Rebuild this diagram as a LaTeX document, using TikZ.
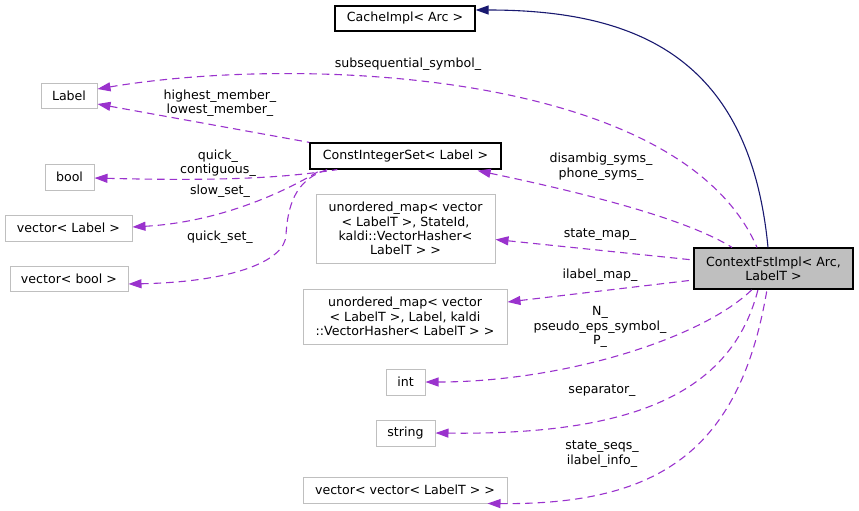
\documentclass[tikz,border=0pt]{standalone}
\usepackage{fontspec}
\setmainfont{DejaVu Sans}
\usetikzlibrary{arrows.meta, calc}
\definecolor{EdgePurple}{rgb}{0.604, 0.196, 0.804}
\definecolor{EdgeNavy}{rgb}{0.098, 0.098, 0.439}
\definecolor{BoxGray}{rgb}{0.75, 0.75, 0.75}
\newcommand{\typebox}[6][plainbox]{% estilo, nombre, x/y, ancho, alto, texto
    \node[#1, minimum width=#4, minimum height=#5] (#2) at (#3) {#6};
}

\begin{document}
\begin{tikzpicture}[x=1pt, y=-1pt,
    font=\fontsize{12.6}{14.4}\selectfont,
    plainbox/.style={draw=BoxGray, line width=1pt, inner sep=0pt, align=center},
    docbox/.style={draw=black, line width=1.2pt, inner sep=0pt, align=center},
    curbox/.style={docbox, fill=BoxGray},
    member/.style={color=EdgePurple, line width=1.1pt, dash pattern=on 7.5pt off 5pt,
                   arrows={Triangle[length=13pt, width=9pt]-}},
    inherit/.style={color=EdgeNavy, line width=1.1pt,
                    arrows={Triangle[length=13pt, width=9pt]-}},
    edgelabel/.style={align=center, inner sep=0pt}]

\useasboundingbox (0,0) rectangle (859,511);

% clases
\typebox[docbox]{cache}{405,18.5}{140pt}{25pt}{CacheImpl< Arc >}
\typebox{label}{69,95.5}{56pt}{25pt}{Label}
\typebox[docbox]{cis}{405.5,156}{191pt}{26pt}{ConstIntegerSet< Label >}
\typebox{bool}{69.5,177}{49pt}{26pt}{bool}
\typebox{vecLabel}{68.5,228}{127pt}{26pt}{vector< Label >}
\typebox{vecBool}{69,278.5}{118pt}{25pt}{vector< bool >}
\typebox{umapA}{405.5,228.5}{179pt}{69pt}{unordered\_map< vector\\< LabelT >, StateId,\\kaldi::VectorHasher<\\LabelT > >}
\typebox{umapB}{405,316.5}{204pt}{55pt}{unordered\_map< vector\\< LabelT >, Label, kaldi\\::VectorHasher< LabelT > >}
\typebox{int}{405.5,382}{39pt}{26pt}{int}
\typebox{string}{405.5,433}{59pt}{26pt}{string}
\typebox{vecvec}{405,490}{204pt}{26pt}{vector< vector< LabelT > >}
\typebox[curbox]{ctx}{773.5,268.5}{159pt}{41pt}{ContextFstImpl< Arc,\\LabelT >}

% herencia
\draw[inherit] ($(cache.east)+(0,-8.5)$) .. controls (640,10) and (750,60) .. ($(ctx.north)+(-5.5,0)$);

% miembros
\draw[member] ($(label.east)+(0,-6.5)$) .. controls (300,55) and (680,70) .. ($(ctx.north)+(-16.5,0)$);
\draw[member] ($(label.east)+(0,8.5)$) -- (cis.north west);
\draw[member] ($(bool.east)+(0,1)$) .. controls (250,182) and (300,175) .. ($(cis.south west)+(28,0)$);
\draw[member] ($(vecLabel.east)+(0,-1)$) .. controls (220,222) and (285,192) .. ($(cis.south west)+(12,0)$);
\draw[member] ($(vecBool.east)+(0,5.5)$) .. controls (230,282) and (285,262) .. (286,235)
    .. controls (288,198) and (300,178) .. ($(cis.south west)+(18,0)$);
\draw[member] ($(cis.south east)+(-24,1)$) .. controls (560,188) and (680,215) .. ($(ctx.north)+(-41.5,0)$);
\draw[member] ($(umapA.east)+(0,11)$) -- ($(ctx.west)+(0,-8.5)$);
\draw[member] ($(umapB.east)+(0,-14.5)$) -- ($(ctx.west)+(0,11.5)$);
\draw[member] (int.east) .. controls (560,382) and (700,340) .. ($(ctx.south)+(-21.5,0)$);
\draw[member] (string.east) .. controls (620,435) and (730,400) .. ($(ctx.south)+(-15.5,0)$);
\draw[member] ($(vecvec.south east)+(-20,0)$) .. controls (660,505) and (740,450) .. ($(ctx.south)+(-6.5,0)$);

% etiquetas
\node[edgelabel] (lblSubseq) at (408,64) {subsequential\_symbol\_};
\node[edgelabel] (lblMember) at (220,103) {highest\_member\_\\lowest\_member\_};
\node[edgelabel] (lblQuick) at (218,163) {quick\_\\contiguous\_};
\node[edgelabel] (lblSlow) at (220,191) {slow\_set\_};
\node[edgelabel] (lblQuickSet) at (220,237) {quick\_set\_};
\node[edgelabel] (lblDisambig) at (601,166.5) {disambig\_syms\_\\phone\_syms\_};
\node[edgelabel] (lblStateMap) at (600,235) {state\_map\_};
\node[edgelabel] (lblIlabelMap) at (600,275) {ilabel\_map\_};
\node[edgelabel] (lblSymbols) at (600,327) {N\_\\pseudo\_eps\_symbol\_\\P\_};
\node[edgelabel] (lblSeparator) at (602,391) {separator\_};
\node[edgelabel] (lblSeqs) at (602,454) {state\_seqs\_\\ilabel\_info\_};

\end{tikzpicture}
\end{document}
